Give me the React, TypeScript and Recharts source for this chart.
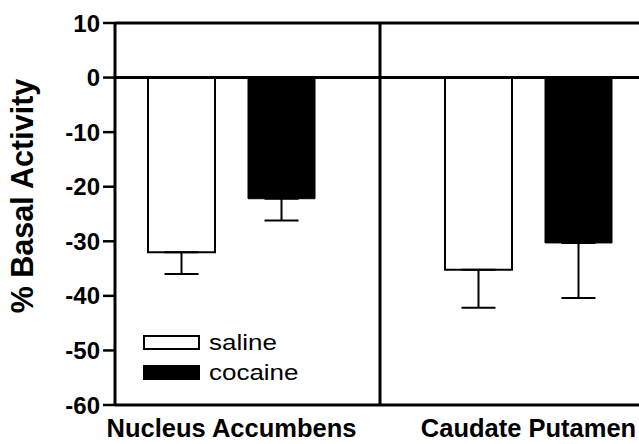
import React from 'react';
import { ComposedChart, Bar, XAxis, YAxis, ReferenceLine, ErrorBar, Legend } from 'recharts';

const regions = ['Nucleus Accumbens', 'Caudate Putamen'];
const seriesOrder = ['saline', 'cocaine'];
const salineValues = [-32, -35.2];
const salineErrors = [4, 7];
const cocaineValues = [-22.2, -30.3];
const cocaineErrors = [4, 10.1];
const yTicks = [-60, -50, -40, -30, -20, -10, 0, 10];

const data = regions.map((region, i) => ({
  region,
  saline: salineValues[i],
  salineErr: [salineErrors[i], 0],
  cocaine: cocaineValues[i],
  cocaineErr: [cocaineErrors[i], 0],
}));

const FONT = "'Liberation Sans', Arial, Helvetica, sans-serif";

const YLabel = (props: any) => {
  const vb = props.viewBox || { x: 0, y: 0, width: 0, height: 0 };
  const cx = vb.x + 33;
  const cy = vb.y + vb.height / 2 - 18;
  return (
    <text
      x={cx}
      y={cy}
      transform={`rotate(-90 ${cx} ${cy})`}
      textAnchor="middle"
      fontFamily={FONT}
      fontWeight="bold"
      fontSize={30.5}
      fill="#000"
    >
      % Basal Activity
    </text>
  );
};

const LegendContent = (props: any) => {
  const payload = [...(props.payload || [])].sort(
    (a: any, b: any) => seriesOrder.indexOf(a.dataKey) - seriesOrder.indexOf(b.dataKey)
  );
  return (
    <div style={{ fontFamily: FONT, fontSize: 22, color: '#000' }}>
      {payload.map((p: any, i: number) => (
        <div key={i} style={{ display: 'flex', alignItems: 'center', height: 30 }}>
          <svg width={58} height={16} style={{ display: 'block' }}>
            <rect
              x={1}
              y={1}
              width={55}
              height={13}
              fill={p.dataKey === 'saline' ? '#fff' : '#000'}
              stroke="#000"
              strokeWidth={2}
            />
          </svg>
          <span
            style={{
              marginLeft: 8,
              display: 'inline-block',
              transform: 'scaleX(1.18)',
              transformOrigin: 'left center',
              lineHeight: '22px',
            }}
          >
            {p.value}
          </span>
        </div>
      ))}
    </div>
  );
};

export default function App() {
  return (
    <div
      style={{
        position: 'fixed',
        left: 0,
        top: 0,
        width: 639,
        height: 444,
        overflow: 'hidden',
        background: '#fff',
      }}
    >
      <ComposedChart
        width={677}
        height={444}
        data={data}
        margin={{ top: 23, right: 0, bottom: 0, left: 0 }}
        barGap={33}
        barSize={67}
      >
        <XAxis
          dataKey="region"
          padding={{ left: -32, right: 0 }}
          axisLine={{ stroke: '#000', strokeWidth: 3 }}
          tickLine={false}
          tickSize={0}
          tickMargin={14}
          height={39}
          interval={0}
          tick={{ fill: '#000', fontSize: 25.5, fontWeight: 'bold', fontFamily: FONT }}
        />
        <YAxis
          domain={[-60, 10]}
          ticks={yTicks}
          width={115}
          allowDataOverflow
          axisLine={{ stroke: '#000', strokeWidth: 3 }}
          tickLine={{ stroke: '#000', strokeWidth: 2.5 }}
          tickSize={12}
          tickMargin={3}
          interval={0}
          tick={{ fill: '#000', fontSize: 24, fontWeight: 'bold', fontFamily: FONT }}
          label={{ value: '% Basal Activity', content: <YLabel /> }}
        />
        <ReferenceLine y={10} stroke="#000" strokeWidth={3} />
        <ReferenceLine y={0} stroke="#000" strokeWidth={3} />
        <ReferenceLine x="Nucleus Accumbens" position="end" stroke="#000" strokeWidth={3} />
        <Bar dataKey="saline" name="saline" fill="#fff" stroke="#000" strokeWidth={2} isAnimationActive={false}>
          <ErrorBar dataKey="salineErr" direction="y" width={17} stroke="#000" strokeWidth={2} />
        </Bar>
        <Bar dataKey="cocaine" name="cocaine" fill="#000" stroke="#000" strokeWidth={1} isAnimationActive={false}>
          <ErrorBar dataKey="cocaineErr" direction="y" width={17} stroke="#000" strokeWidth={2} />
        </Bar>
        <Legend
          layout="vertical"
          verticalAlign="middle"
          align="center"
          content={<LegendContent />}
          wrapperStyle={{ left: 143, top: 328, width: 'auto', height: 'auto' }}
        />
      </ComposedChart>
    </div>
  );
}
